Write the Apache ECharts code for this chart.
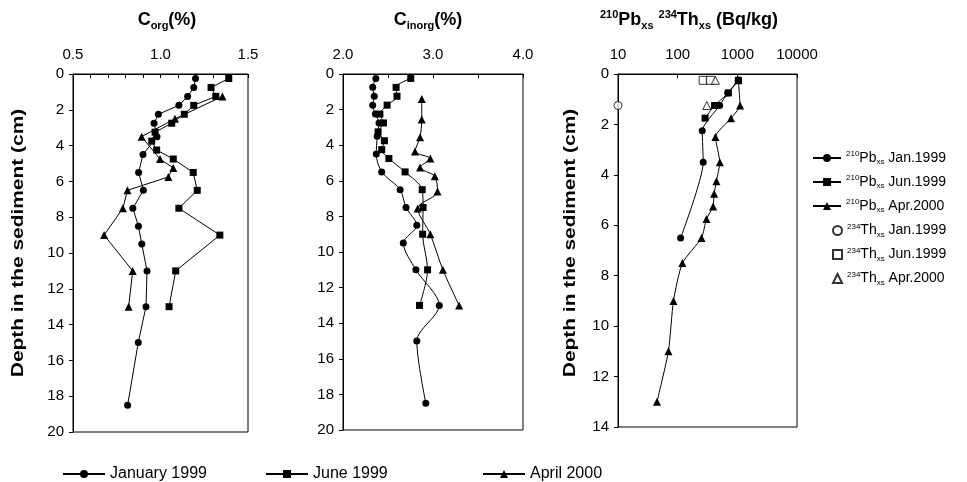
<!DOCTYPE html>
<html>
<head>
<meta charset="utf-8">
<script src="https://cdn.jsdelivr.net/npm/echarts@6/dist/echarts.min.js"></script>
<style>html,body{margin:0;padding:0;background:#fff}#c{width:967px;height:482px}</style>
</head>
<body>
<div id="c"></div>
<script>
// ---------- DATA ----------
// Panel 1: C org (%)
const corgJanDepth = [0.25,0.75,1.25,1.75,2.25,2.75,3.5,4.5,5.5,6.5,7.5,8.5,9.5,11,13,15,18.5];
const corgJanVal   = [1.20,1.19,1.155,1.105,0.988,0.963,0.98,0.90,0.875,0.902,0.842,0.874,0.893,0.923,0.917,0.873,0.812];
const corgJunDepth = [0.25,0.75,1.25,1.75,2.25,2.75,3.25,3.75,4.25,4.75,5.5,6.5,7.5,9.0,11,13];
const corgJunVal   = [1.39,1.289,1.316,1.19,1.136,1.064,0.969,0.95,0.978,1.073,1.187,1.21,1.105,1.339,1.087,1.049];
const corgAprDepth = [1.25,2.5,3.5,4.75,5.25,5.75,6.5,7.5,9.0,11,13];
const corgAprVal   = [1.354,1.083,0.892,0.997,1.073,1.045,0.811,0.785,0.678,0.841,0.818];
// Panel 2: C inorg (%)
const cinJanDepth = [0.25,0.75,1.25,1.75,2.25,2.75,3.5,4.5,5.5,6.5,7.5,8.5,9.5,11,13,15,18.5];
const cinJanVal   = [2.365,2.33,2.347,2.33,2.36,2.40,2.38,2.37,2.43,2.635,2.70,2.82,2.67,2.81,3.07,2.82,2.92];
const cinJunDepth = [0.25,0.75,1.25,1.75,2.25,2.75,3.25,3.75,4.25,4.75,5.5,6.5,7.5,9.0,11,13];
const cinJunVal   = [2.753,2.59,2.60,2.49,2.41,2.45,2.39,2.46,2.43,2.51,2.69,2.88,2.89,2.885,2.94,2.85];
const cinAprDepth = [1.4,2.55,3.55,4.35,4.75,5.25,5.75,6.6,7.55,9.0,11,13];
const cinAprVal   = [2.875,2.875,2.856,2.80,2.97,2.856,3.02,3.05,2.83,2.97,3.11,3.29];
// Panel 3: 210Pb xs / 234Th xs (Bq/kg)
const pbJanDepth = [0.25,0.75,1.25,2.25,3.5,6.5];
const pbJanVal   = [1040,690,505,258,268,112];
const pbJunDepth = [0.25,0.75,1.25,1.75];
const pbJunVal   = [1040,708,415,288];
const pbAprDepth = [0.25,1.25,1.75,2.5,3.5,4.25,4.75,5.25,5.75,6.5,7.5,9.0,11,13];
const pbAprVal   = [1040,1110,783,430,508,447,408,393,304,251,120,85,70,45];
const thJanDepth = [1.25];
const thJanVal   = [10];
const thJunDepth = [0.25,0.25];
const thJunVal   = [267,354];
const thAprDepth = [0.25,1.25];
const thAprVal   = [428,308];
// tick labels
const corgTicks = ['0.5','1.0','1.5'];
const cinTicks = ['2.0','3.0','4.0'];
const logTicks = ['10','100','1000','10000'];

// ---------- CHART ----------
const FONT = "'Liberation Sans', Arial, Helvetica, sans-serif";
const zip = (xs, ys) => xs.map((x, i) => [x, ys[i]]);
const chart = echarts.init(document.getElementById('c'), null, {renderer: 'canvas'});

const black = '#000';
function gridCfg(left, width, height) {
  return {left, top: 74, width, height, show: true, borderColor: black, borderWidth: 1,
          backgroundColor: 'transparent', containLabel: false};
}
function xAx(idx, extra) {
  return Object.assign({
    gridIndex: idx, type: 'value', position: 'top',
    axisLine: {show: true, lineStyle: {color: black, width: 1}},
    axisTick: {show: true, inside: true, length: 4, lineStyle: {color: black}},
    axisLabel: {color: black, fontSize: 15, fontFamily: FONT, margin: 12, interval: 0,
                showMinLabel: true, showMaxLabel: true},
    splitLine: {show: false}
  }, extra);
}
function yAx(idx, max) {
  return {
    gridIndex: idx, type: 'value', inverse: true, min: 0, max: max, interval: 2,
    axisLine: {show: true, onZero: false, lineStyle: {color: black, width: 1}},
    axisTick: {show: true, inside: false, length: 4, lineStyle: {color: black}},
    axisLabel: {color: black, fontSize: 15, fontFamily: FONT, margin: 9},
    splitLine: {show: false}
  };
}
const near = (v, t) => Math.abs(v - t) < 1e-6;
function lineSeries(name, xi, data, symbol, size, smooth) {
  return {
    name, type: 'line', xAxisIndex: xi, yAxisIndex: xi, data,
    symbol, symbolSize: size, showAllSymbol: true, smooth: smooth || false,
    lineStyle: {color: black, width: 1}, itemStyle: {color: black},
    emphasis: {disabled: true}, animation: false, clip: false
  };
}
function openSeries(name, data, symbol, size) {
  return {
    name, type: 'scatter', xAxisIndex: 2, yAxisIndex: 2, data, symbol, symbolSize: size,
    itemStyle: {color: '#fff', borderColor: black, borderWidth: 1},
    emphasis: {disabled: true}, animation: false, clip: false, z: 5
  };
}

const legendRich = {
  m: {fontSize: 14, fontFamily: FONT, color: black, lineHeight: 16, verticalAlign: 'middle'},
  p: {fontSize: 8, fontFamily: FONT, color: black, lineHeight: 8, verticalAlign: 'top'},
  s: {fontSize: 8, fontFamily: FONT, color: black, lineHeight: 8, verticalAlign: 'bottom'}
};
const legendLabels = {
  PbJan: '{p|210}{m|Pb}{s|xs}{m| Jan.1999}',
  PbJun: '{p|210}{m|Pb}{s|xs}{m| Jun.1999}',
  PbApr: '{p|210}{m|Pb}{s|xs}{m| Apr.2000}',
  ThJan: '{p|234}{m|Th}{s|xs}{m| Jan.1999}',
  ThJun: '{p|234}{m|Th}{s|xs}{m| Jun.1999}',
  ThApr: '{p|234}{m|Th}{s|xs}{m| Apr.2000}'
};
function bottomLegend(name, left) {
  return {data: [name], left, top: 461, itemWidth: 42, itemHeight: 10, itemGap: 0,
          selectedMode: false, textStyle: {fontSize: 16, fontFamily: FONT, color: black}};
}

const titleRich = {
  m: {fontSize: 18, fontWeight: 'bold', fontFamily: FONT, color: black, lineHeight: 22, verticalAlign: 'middle'},
  s: {fontSize: 11, fontWeight: 'bold', fontFamily: FONT, color: black, lineHeight: 10, verticalAlign: 'bottom'},
  p: {fontSize: 11, fontWeight: 'bold', fontFamily: FONT, color: black, lineHeight: 10, verticalAlign: 'top'}
};
function titleText(text, x, y) {
  return {type: 'text', x, y, silent: true,
          style: {text, rich: titleRich, align: 'center', verticalAlign: 'middle'}};
}
function yTitle(x, y) {
  return {type: 'text', x, y, rotation: Math.PI / 2, scaleX: 1.23, silent: true,
          style: {text: 'Depth in the sediment (cm)', fontSize: 17, fontWeight: 'bold', fontFamily: FONT,
                  fill: black, align: 'center', verticalAlign: 'middle'}};
}

const option = {
  backgroundColor: '#fff',
  animation: false,
  grid: [gridCfg(73, 175, 358), gridCfg(343, 180, 356), gridCfg(618, 179, 353)],
  xAxis: [
    xAx(0, {min: 0.5, max: 1.5, interval: 0.1,
            axisLabel: Object.assign({}, xAx(0).axisLabel, {formatter: v => {
              const t = corgTicks.find(s => near(parseFloat(s), v)); return t || '';}})}),
    xAx(1, {min: 2, max: 4, interval: 0.5,
            axisLabel: Object.assign({}, xAx(1).axisLabel, {formatter: v => {
              const t = cinTicks.find(s => near(parseFloat(s), v)); return t || '';}})}),
    xAx(2, {type: 'log', logBase: 10, min: 10, max: 10000,
            axisLabel: Object.assign({}, xAx(2).axisLabel, {formatter: v => {
              const t = logTicks.find(s => Math.abs(parseFloat(s) - v) / parseFloat(s) < 1e-6); return t || '';}})})
  ],
  yAxis: [yAx(0, 20), yAx(1, 20), yAx(2, 14)],
  legend: [
    bottomLegend('January 1999', 57),
    bottomLegend('June 1999', 260),
    bottomLegend('April 2000', 477),
    {data: ['PbJan', 'PbJun', 'PbApr'], orient: 'vertical', left: 807, top: 145,
     itemWidth: 28, itemHeight: 10, itemGap: 8, selectedMode: false,
     formatter: n => legendLabels[n], textStyle: {rich: legendRich, fontSize: 14, color: black}},
    {data: ['ThJan', 'ThJun', 'ThApr'], orient: 'vertical', left: 827, top: 217.5,
     itemWidth: 9, itemHeight: 9, itemGap: 8, selectedMode: false,
     formatter: n => legendLabels[n], textStyle: {rich: legendRich, fontSize: 14, color: black}}
  ],
  graphic: [
    titleText('{m|C}{s|org}{m|(%)}', 167, 20),
    titleText('{m|C}{s|inorg}{m|(%)}', 428, 20),
    titleText('{p|210}{m|Pb}{s|xs}{m| }{p|234}{m|Th}{s|xs}{m| (Bq/kg)}', 689, 20),
    yTitle(18, 243),
    yTitle(570, 243)
  ],
  series: [
    lineSeries('January 1999', 0, zip(corgJanVal, corgJanDepth), 'circle', 7),
    lineSeries('June 1999', 0, zip(corgJunVal, corgJunDepth), 'rect', 7),
    lineSeries('April 2000', 0, zip(corgAprVal, corgAprDepth), 'triangle', 8),
    lineSeries('January 1999', 1, zip(cinJanVal, cinJanDepth), 'circle', 7, 0.3),
    lineSeries('June 1999', 1, zip(cinJunVal, cinJunDepth), 'rect', 7, 0.3),
    lineSeries('April 2000', 1, zip(cinAprVal, cinAprDepth), 'triangle', 8, 0.3),
    lineSeries('PbJan', 2, zip(pbJanVal, pbJanDepth), 'circle', 7, 0.2),
    lineSeries('PbJun', 2, zip(pbJunVal, pbJunDepth), 'rect', 7, 0.2),
    lineSeries('PbApr', 2, zip(pbAprVal, pbAprDepth), 'triangle', 8, 0.2),
    openSeries('ThJan', zip(thJanVal, thJanDepth), 'circle', 8),
    openSeries('ThJun', zip(thJunVal, thJunDepth), 'rect', 8),
    openSeries('ThApr', zip(thAprVal, thAprDepth), 'triangle', 8)
  ]
};
chart.setOption(option);
</script>
</body>
</html>
